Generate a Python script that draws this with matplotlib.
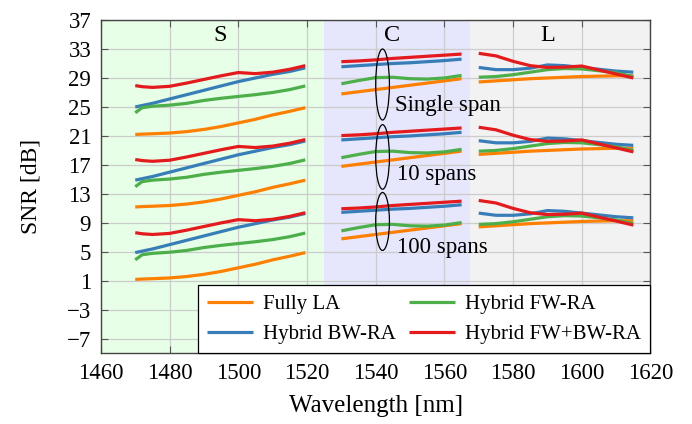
import numpy as np
import matplotlib
matplotlib.use("Agg")
import matplotlib.pyplot as plt
from matplotlib.patches import Ellipse

plt.rcParams['font.family'] = ['Liberation Serif', 'DejaVu Serif']
plt.rcParams['mathtext.fontset'] = 'stix'

# wavelengths [nm] of the sampled points, per band
wl_S = [1470, 1472, 1475, 1480, 1485, 1490, 1495, 1500, 1505, 1510, 1515, 1519.5]
wl_C = [1530, 1535, 1540, 1545, 1550, 1555, 1560, 1565]
wl_L = [1570, 1575, 1580, 1585, 1590, 1595, 1600, 1605, 1610, 1615]

# single-span SNR [dB]
la_S = [21.2, 21.25, 21.3, 21.4, 21.6, 21.9, 22.3, 22.8, 23.3, 23.9, 24.4, 24.9]
bw_S = [25.0, 25.2, 25.5, 26.1, 26.7, 27.3, 27.9, 28.5, 29.0, 29.5, 29.9, 30.4]
fw_S = [24.2, 24.9, 25.1, 25.25, 25.5, 25.9, 26.2, 26.45, 26.7, 27.0, 27.4, 27.9]
fwbw_S = [27.95, 27.8, 27.7, 27.85, 28.3, 28.8, 29.3, 29.75, 29.6, 29.8, 30.2, 30.7]

la_C = [26.8, 27.1, 27.4, 27.7, 28.0, 28.3, 28.6, 28.9]
bw_C = [30.55, 30.7, 30.85, 31.0, 31.1, 31.25, 31.4, 31.6]
fw_C = [28.2, 28.65, 29.05, 29.1, 28.9, 28.85, 29.0, 29.35]
fwbw_C = [31.25, 31.35, 31.5, 31.7, 31.85, 32.0, 32.15, 32.3]

la_L = [28.45, 28.6, 28.75, 28.9, 29.0, 29.1, 29.2, 29.25, 29.3, 29.3]
bw_L = [30.45, 30.15, 30.15, 30.35, 30.8, 30.7, 30.45, 30.2, 29.95, 29.8]
fw_L = [29.1, 29.2, 29.45, 29.8, 30.15, 30.3, 30.25, 30.0, 29.7, 29.2]
fwbw_L = [32.4, 32.05, 31.3, 30.7, 30.45, 30.5, 30.65, 30.1, 29.55, 29.0]

# SNR drop for 10 and 100 spans [dB]
drop_10 = [10.0, 10.1, 10.2, 10.2]    # LA, BW, FW, FW+BW
drop_100 = [20.0, 20.1, 20.3, 20.3]

labels = ['Fully LA', 'Hybrid BW-RA', 'Hybrid FW-RA', 'Hybrid FW+BW-RA']
colors = ['#ff7f00', '#377eb8', '#4daf4a', '#e41a1c']

series = [(la_S, la_C, la_L), (bw_S, bw_C, bw_L),
          (fw_S, fw_C, fw_L), (fwbw_S, fwbw_C, fwbw_L)]

fig = plt.figure(figsize=(6.92, 4.24), dpi=100)
ax = fig.add_axes([0.1458, 0.1667, 0.7942, 0.7861])

ax.axvspan(1460, 1525, color='#e6ffe6', zorder=0, lw=0)
ax.axvspan(1525, 1567.5, color='#e6e6fc', zorder=0, lw=0)
ax.axvspan(1567.5, 1620, color='#f2f2f2', zorder=0, lw=0)

handles = []
for i, (sS, sC, sL) in enumerate(series):
    for drop in (0, drop_10[i], drop_100[i]):
        for wl, s in ((wl_S, sS), (wl_C, sC), (wl_L, sL)):
            h, = ax.plot(wl, np.array(s) - drop, color=colors[i], lw=2.3,
                         solid_capstyle='butt', zorder=3)
    h.set_label(labels[i])
    handles.append(h)

# ellipses around the C-band groups
for yc, hh in [(28.1, 9.8), (18.1, 8.9), (9.2, 8.0)]:
    ax.add_patch(Ellipse((1542, yc), 4.0, hh, fill=False, ec='black',
                         lw=0.9, zorder=4))

fs = 16.5
ax.text(1545.6, 25.2, 'Single span', fontsize=fs, va='center')
ax.text(1546.1, 15.7, '10 spans', fontsize=fs, va='center')
ax.text(1546.2, 5.6, '100 spans', fontsize=fs, va='center')
ax.text(1494.7, 34.9, 'S', fontsize=17.5, ha='center', va='center')
ax.text(1544.9, 34.9, 'C', fontsize=17.5, ha='center', va='center')
ax.text(1590, 34.9, 'L', fontsize=17.5, ha='center', va='center')

ax.set_xlim(1460, 1620)
ax.set_ylim(-9, 37)
ax.set_xticks(np.arange(1460, 1621, 20))
ax.set_yticks(np.arange(-7, 38, 4))
ax.grid(True, color='#cccccc', lw=0.9)
ax.set_axisbelow(True)
ax.tick_params(direction='in', top=True, right=True, labelsize=16.5,
               color='#555555', length=5, pad=7)
for sp in ax.spines.values():
    sp.set_color('#444444')
    sp.set_linewidth(1.0)

ax.set_xlabel('Wavelength [nm]', fontsize=18, labelpad=8)
ax.set_ylabel('SNR [dB]', fontsize=17, labelpad=18)

leg = ax.legend(handles=handles, ncol=2, loc='lower right', fontsize=15,
                fancybox=False, framealpha=1, edgecolor='black',
                borderaxespad=0, handlelength=2.2, columnspacing=0.6,
                handletextpad=0.5, labelspacing=0.5, borderpad=0.45)
leg.get_frame().set_linewidth(0.9)
leg.set_zorder(5)

fig.savefig('out.png', dpi=100)
